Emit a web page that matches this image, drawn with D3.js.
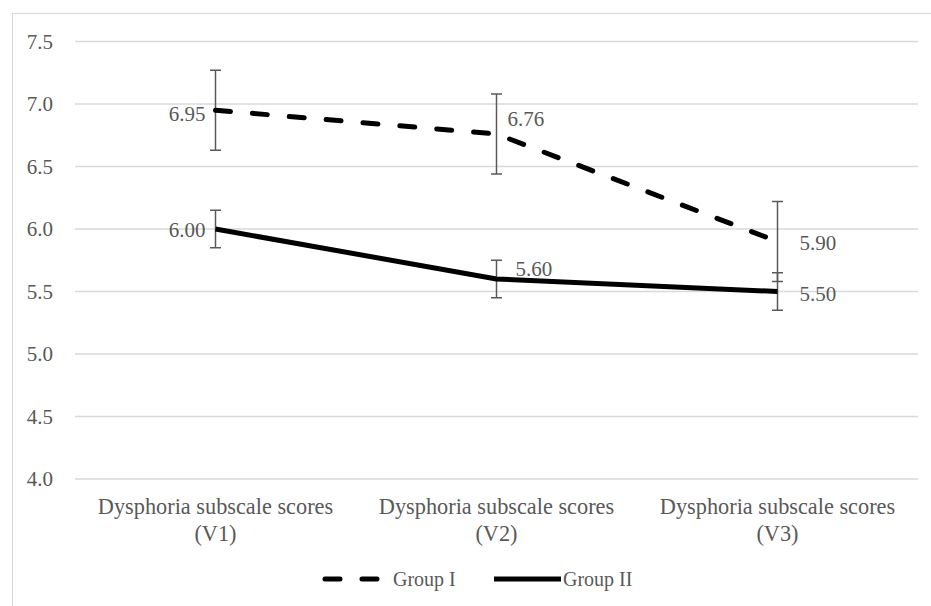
<!DOCTYPE html>
<html>
<head>
<meta charset="utf-8">
<script src="https://cdn.jsdelivr.net/npm/d3@7"></script>
<style>
  html, body { margin: 0; padding: 0; background: #fff; }
  svg { display: block; }
</style>
</head>
<body>
<svg id="chart" width="931" height="606"></svg>
<script>
// ---- data ----
const categories = ["Dysphoria subscale scores (V1)", "Dysphoria subscale scores (V2)", "Dysphoria subscale scores (V3)"];
const categoryLines = [["Dysphoria subscale scores", "(V1)"], ["Dysphoria subscale scores", "(V2)"], ["Dysphoria subscale scores", "(V3)"]];
const seriesNames = ["Group I", "Group II"];
const groupI = [6.95, 6.76, 5.90];
const groupII = [6.00, 5.60, 5.50];
const groupIErr = [0.32, 0.32, 0.32];
const groupIIErr = [0.15, 0.15, 0.15];
const yTicks = [4.0, 4.5, 5.0, 5.5, 6.0, 6.5, 7.0, 7.5];

// ---- layout / style ----
const FONT = "Liberation Serif";
const TXT = "#595959";
const plot = { left: 75, right: 918, top: 41.5, bottom: 479 };
const svg = d3.select("#chart");

// chart border
svg.append("rect").attr("x", 12.5).attr("y", 13.5).attr("width", 930).attr("height", 600)
  .attr("fill", "none").attr("stroke", "#d9d9d9").attr("stroke-width", 1.2);

const x = d3.scaleBand().domain(categories).range([plot.left, plot.right]).padding(0);
const cx = c => x(c) + x.bandwidth() / 2;
const y = d3.scaleLinear().domain([4, 7.5]).range([plot.bottom, plot.top]);

// gridlines
svg.append("g").selectAll("line").data(yTicks).join("line")
  .attr("x1", plot.left).attr("x2", plot.right)
  .attr("y1", d => y(d)).attr("y2", d => y(d))
  .attr("stroke", "#d9d9d9").attr("stroke-width", 1.3);

// y axis labels
const yAxis = d3.axisLeft(y).tickValues(yTicks).tickFormat(d3.format(".1f")).tickSize(0).tickPadding(0);
const yg = svg.append("g").attr("transform", `translate(53,0)`).call(yAxis)
  .attr("font-family", FONT).attr("font-size", 21);
yg.select(".domain").remove();
yg.selectAll("text").attr("font-family", FONT).attr("font-size", 21).attr("fill", TXT).attr("dy", "0.33em");

// x axis labels
const xg = svg.append("g");
categories.forEach((c, i) => {
  const t = xg.append("text").attr("x", cx(c)).attr("y", 514)
    .attr("text-anchor", "middle")
    .attr("font-size", 22.3).attr("font-family", FONT).attr("fill", TXT);
  categoryLines[i].forEach((ln, j) => {
    t.append("tspan").attr("x", cx(c)).attr("dy", j === 0 ? 0 : 27).text(ln);
  });
});

const series = [
  { name: seriesNames[0], values: groupI, err: groupIErr, dash: "15,22" },
  { name: seriesNames[1], values: groupII, err: groupIIErr, dash: null }
];

// error bars
const capHalf = 5.5;
series.forEach(s => {
  const g = svg.append("g").attr("stroke", "#595959").attr("stroke-width", 1.5);
  s.values.forEach((v, i) => {
    const xx = cx(categories[i]);
    const y1 = y(v + s.err[i]), y2 = y(v - s.err[i]);
    g.append("line").attr("x1", xx).attr("x2", xx).attr("y1", y1).attr("y2", y2);
    g.append("line").attr("x1", xx - capHalf).attr("x2", xx + capHalf).attr("y1", y1).attr("y2", y1);
    g.append("line").attr("x1", xx - capHalf).attr("x2", xx + capHalf).attr("y1", y2).attr("y2", y2);
  });
});

// lines
const line = d3.line().x((d, i) => cx(categories[i])).y(d => y(d));
series.forEach(s => {
  svg.append("path").datum(s.values)
    .attr("d", line)
    .attr("fill", "none").attr("stroke", "#000").attr("stroke-width", 5)
    .attr("stroke-linecap", s.dash ? "round" : "butt")
    .attr("stroke-linejoin", "round")
    .attr("stroke-dasharray", s.dash);
});

// data labels: placement per series/point (style only)
const labelPlace = [
  [{ a: "end", dx: -10, dy: 3 }, { a: "start", dx: 11, dy: -15 }, { a: "start", dx: 22, dy: 1 }],
  [{ a: "end", dx: -10, dy: 1 }, { a: "start", dx: 19, dy: -10 }, { a: "start", dx: 22, dy: 2 }]
];
series.forEach((s, si) => {
  s.values.forEach((v, i) => {
    const p = labelPlace[si][i];
    svg.append("text")
      .attr("x", cx(categories[i]) + p.dx).attr("y", y(v) + p.dy)
      .attr("dy", "0.35em").attr("text-anchor", p.a)
      .attr("font-size", 21).attr("font-family", FONT).attr("fill", TXT)
      .text(d3.format(".2f")(v));
  });
});

// legend
const lgY = 579;
const lg = svg.append("g");
lg.append("line").attr("x1", 325).attr("x2", 385).attr("y1", lgY).attr("y2", lgY)
  .attr("stroke", "#000").attr("stroke-width", 5).attr("stroke-linecap", "round")
  .attr("stroke-dasharray", "15,22");
lg.append("text").attr("x", 393).attr("y", lgY).attr("dy", "0.35em")
  .attr("font-size", 20).attr("font-family", FONT).attr("fill", TXT).text(seriesNames[0]);
lg.append("line").attr("x1", 494).attr("x2", 561).attr("y1", lgY).attr("y2", lgY)
  .attr("stroke", "#000").attr("stroke-width", 5);
lg.append("text").attr("x", 563).attr("y", lgY).attr("dy", "0.35em")
  .attr("font-size", 20).attr("font-family", FONT).attr("fill", TXT).text(seriesNames[1]);
</script>
</body>
</html>
